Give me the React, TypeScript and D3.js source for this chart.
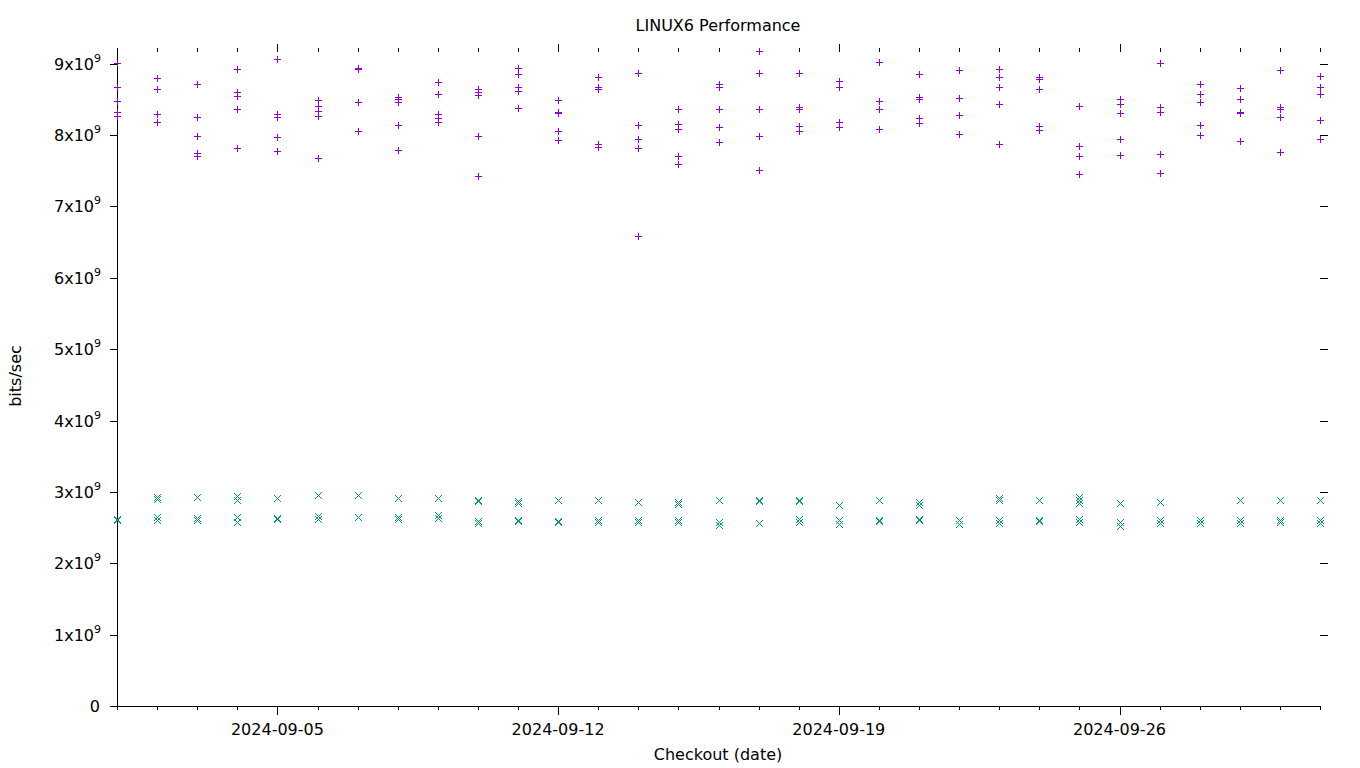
import * as d3 from "d3";

// one entry per checkout day, values in units of 1e9 bits/sec
const dates = [
  "2024-09-01", "2024-09-02", "2024-09-03", "2024-09-04", "2024-09-05", "2024-09-06",
  "2024-09-07", "2024-09-08", "2024-09-09", "2024-09-10", "2024-09-11", "2024-09-12",
  "2024-09-13", "2024-09-14", "2024-09-15", "2024-09-16", "2024-09-17", "2024-09-18",
  "2024-09-19", "2024-09-20", "2024-09-21", "2024-09-22", "2024-09-23", "2024-09-24",
  "2024-09-25", "2024-09-26", "2024-09-27", "2024-09-28", "2024-09-29", "2024-09-30",
  "2024-10-01",
];

const plusRuns = [
  [9.01, 8.68, 8.48, 8.33, 8.27],
  [8.8, 8.65, 8.3, 8.19],
  [8.72, 8.26, 7.99, 7.75, 7.7],
  [8.93, 8.6, 8.55, 8.37, 7.82],
  [9.07, 8.29, 8.26, 7.97, 7.77],
  [8.49, 8.41, 8.34, 8.27, 7.68],
  [8.94, 8.93, 8.47, 8.06],
  [8.54, 8.5, 8.47, 8.14, 7.79],
  [8.75, 8.57, 8.29, 8.24, 8.19],
  [8.65, 8.61, 8.56, 7.99, 7.42],
  [8.94, 8.86, 8.67, 8.62, 8.38],
  [8.49, 8.33, 8.31, 8.06, 7.93],
  [8.82, 8.67, 8.65, 7.88, 7.83],
  [8.87, 8.14, 7.95, 7.82, 6.58],
  [8.37, 8.16, 8.09, 7.71, 7.6],
  [8.72, 8.68, 8.37, 8.11, 7.9],
  [9.18, 8.87, 8.37, 7.99, 7.51],
  [8.87, 8.39, 8.37, 8.13, 8.06],
  [8.76, 8.67, 8.19, 8.12],
  [9.02, 8.48, 8.37, 8.09],
  [8.86, 8.54, 8.51, 8.24, 8.17],
  [8.91, 8.52, 8.28, 8.01],
  [8.92, 8.81, 8.67, 8.44, 7.88],
  [8.81, 8.79, 8.65, 8.13, 8.07],
  [8.41, 7.85, 7.71, 7.45],
  [8.51, 8.44, 8.31, 7.95, 7.72],
  [9.01, 8.4, 8.33, 7.73, 7.47],
  [8.71, 8.57, 8.46, 8.14, 8.0],
  [8.66, 8.51, 8.33, 8.31, 7.91],
  [8.91, 8.4, 8.37, 8.25, 7.76],
  [8.83, 8.68, 8.58, 8.21, 7.94],
];

const crossRuns = [
  [2.62, 2.6],
  [2.93, 2.9, 2.65, 2.6],
  [2.93, 2.64, 2.61],
  [2.94, 2.89, 2.65, 2.58],
  [2.91, 2.64, 2.62],
  [2.96, 2.66, 2.62],
  [2.96, 2.65],
  [2.92, 2.65, 2.62],
  [2.92, 2.68, 2.64],
  [2.88, 2.87, 2.59, 2.56],
  [2.87, 2.84, 2.61, 2.59],
  [2.88, 2.59, 2.58],
  [2.88, 2.61, 2.58],
  [2.86, 2.61, 2.58],
  [2.86, 2.83, 2.6, 2.58],
  [2.88, 2.58, 2.54],
  [2.88, 2.87, 2.57],
  [2.88, 2.87, 2.62, 2.58],
  [2.82, 2.6, 2.55],
  [2.88, 2.61, 2.59],
  [2.86, 2.82, 2.62, 2.6],
  [2.6, 2.55],
  [2.92, 2.88, 2.6, 2.56],
  [2.88, 2.6, 2.59],
  [2.93, 2.89, 2.85, 2.62, 2.58],
  [2.85, 2.58, 2.52],
  [2.86, 2.6, 2.56],
  [2.61, 2.56],
  [2.88, 2.61, 2.57],
  [2.88, 2.61, 2.58],
  [2.88, 2.6, 2.56],
];

const yTicks = [0, 1, 2, 3, 4, 5, 6, 7, 8, 9];
const labelledDates = ["2024-09-05", "2024-09-12", "2024-09-19", "2024-09-26"];

const font = "DejaVu Sans, sans-serif";

export default function App() {
  const parse = d3.utcParse("%Y-%m-%d");
  const x = d3
    .scaleUtc()
    .domain([parse("2024-09-01")!, parse("2024-10-01")!])
    .range([117, 1320]);
  const y = d3.scaleLinear().domain([0, 9.22]).range([706, 48]);

  const days = d3.utcDay.range(parse("2024-09-01")!, parse("2024-10-02")!);
  const majors = labelledDates.map((d) => parse(d)!);
  const isMajor = (d: Date) => majors.some((m) => +m === +d);

  const px = (v: number) => Math.round(v);

  const pluses = dates.flatMap((d, i) =>
    plusRuns[i].map((v) => ({ cx: px(x(parse(d)!)), cy: px(y(v)) }))
  );
  const crosses = dates.flatMap((d, i) =>
    crossRuns[i].map((v) => ({ cx: px(x(parse(d)!)), cy: px(y(v)) }))
  );

  return (
    <svg
      width={1360}
      height={768}
      style={{ position: "absolute", left: 0, top: 0, background: "#fff" }}
      fontFamily={font}
    >
      <rect width={1360} height={768} fill="#fff" />
      <g stroke="#000" strokeWidth={1} shapeRendering="crispEdges">
        <line x1={117.5} y1={48} x2={117.5} y2={706.5} />
        <line x1={117} y1={706.5} x2={1321} y2={706.5} />
        {yTicks.map((t) => (
          <g key={t}>
            <line x1={110} x2={117} y1={px(y(t)) + 0.5} y2={px(y(t)) + 0.5} />
            {t > 0 && (
              <line x1={1320} x2={1328} y1={px(y(t)) + 0.5} y2={px(y(t)) + 0.5} />
            )}
          </g>
        ))}
        {days.map((d) => {
          const cx = px(x(d)) + 0.5;
          const major = isMajor(d);
          return (
            <g key={+d}>
              <line x1={cx} x2={cx} y1={706} y2={major ? 715 : 710} />
              <line x1={cx} x2={cx} y1={52} y2={major ? 44 : 48} />
            </g>
          );
        })}
      </g>

      <g fontSize={16} fill="#000">
        {yTicks.map((t) => (
          <text key={t} x={t === 0 ? 100 : 101} y={px(y(t)) + 6} textAnchor="end">
            {t === 0 ? (
              "0"
            ) : (
              <>
                {`${t}x10`}
                <tspan fontSize={11} dy={-8}>
                  9
                </tspan>
              </>
            )}
          </text>
        ))}
        {majors.map((d, i) => (
          <text key={i} x={x(d)} y={735} textAnchor="middle">
            {labelledDates[i]}
          </text>
        ))}
        <text x={718} y={31} textAnchor="middle">
          LINUX6 Performance
        </text>
        <text x={718} y={760} textAnchor="middle">
          Checkout (date)
        </text>
        <text transform="translate(21,376) rotate(-90)" textAnchor="middle">
          bits/sec
        </text>
      </g>

      <g stroke="#9400d3" strokeWidth={1} shapeRendering="crispEdges">
        {pluses.map((p, i) => (
          <g key={i}>
            <line x1={p.cx - 3} x2={p.cx + 4} y1={p.cy + 0.5} y2={p.cy + 0.5} />
            <line x1={p.cx + 0.5} x2={p.cx + 0.5} y1={p.cy - 3} y2={p.cy + 4} />
          </g>
        ))}
      </g>
      <g stroke="#009e73" strokeWidth={1} shapeRendering="crispEdges">
        {crosses.map((p, i) => (
          <g key={i}>
            <line x1={p.cx - 3} x2={p.cx + 4} y1={p.cy - 3} y2={p.cy + 4} />
            <line x1={p.cx - 3} x2={p.cx + 4} y1={p.cy + 4} y2={p.cy - 3} />
          </g>
        ))}
      </g>
    </svg>
  );
}
